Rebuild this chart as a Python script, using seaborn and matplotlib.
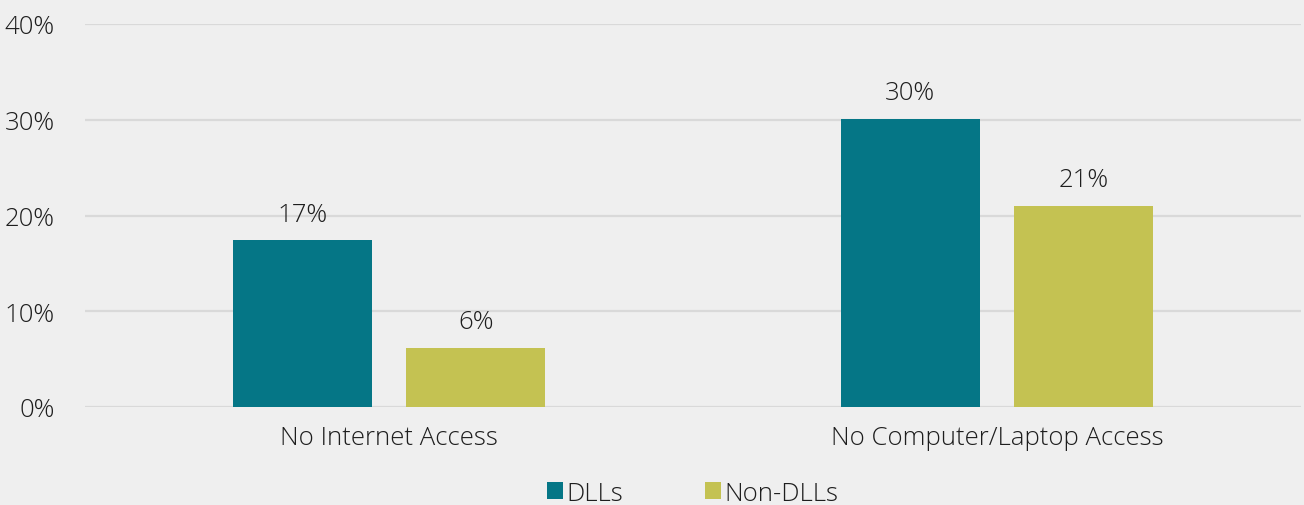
import pandas as pd
import numpy as np
import matplotlib.pyplot as plt
import seaborn as sns

# chart data
categories = ['No Internet Access', 'No Computer/Laptop Access']
groups = ['DLLs', 'Non-DLLs']
dll_values = [17.4, 30.1]
non_dll_values = [6.2, 21.0]
dll_labels = ['17%', '30%']
non_dll_labels = ['6%', '21%']
y_ticks = [0, 10, 20, 30, 40]

df = pd.DataFrame({
    'category': categories * 2,
    'group': [groups[0]] * 2 + [groups[1]] * 2,
    'value': dll_values + non_dll_values,
})

sns.set_theme(style='white')
plt.rcParams['font.family'] = ['Open Sans', 'DejaVu Sans']
plt.rcParams['font.weight'] = 'light'

bg = '#efefef'
txt = '#1e1e1e'
fs = 18.5
fig = plt.figure(figsize=(13.04, 5.06), dpi=100, facecolor=bg)
ax = fig.add_axes([85 / 1304, 1 - 408 / 506, 1216 / 1304, 383 / 506])
ax.set_facecolor(bg)

sns.barplot(data=df, x='category', y='value', hue='group', order=categories,
            hue_order=groups, palette=['#057686', '#c4c252'], width=0.572,
            gap=0.2, saturation=1, linewidth=0, ax=ax, legend=True)

ax.set_ylim(0, 40)
ax.set_xlim(-0.5, 1.5)
ax.set_yticks(y_ticks)
ax.set_yticklabels([f'{t}%' for t in y_ticks])
ax.yaxis.grid(True, color='#d9d9d9', linewidth=1.6)
ax.set_axisbelow(True)
for s in ax.spines.values():
    s.set_visible(False)
ax.tick_params(axis='y', length=0, pad=22, labelsize=fs, labelcolor=txt)
ax.tick_params(axis='x', length=0, pad=13, labelsize=fs, labelcolor=txt)
ax.set_xlabel('')
ax.set_ylabel('')

# value labels above bars
for cont, labs in zip(ax.containers, [dll_labels, non_dll_labels]):
    ax.bar_label(cont, labels=labs, padding=10, fontsize=fs, color=txt)

handles, lbls = ax.get_legend_handles_labels()
ax.legend(handles, lbls, loc='upper center', bbox_to_anchor=(0.5, -0.145),
          ncol=2, frameon=False, fontsize=fs, handlelength=0.6,
          handleheight=0.6, handletextpad=0.15, columnspacing=3.2,
          labelcolor=txt, borderpad=0.2)

fig.savefig('out.png', dpi=100, facecolor=bg)
